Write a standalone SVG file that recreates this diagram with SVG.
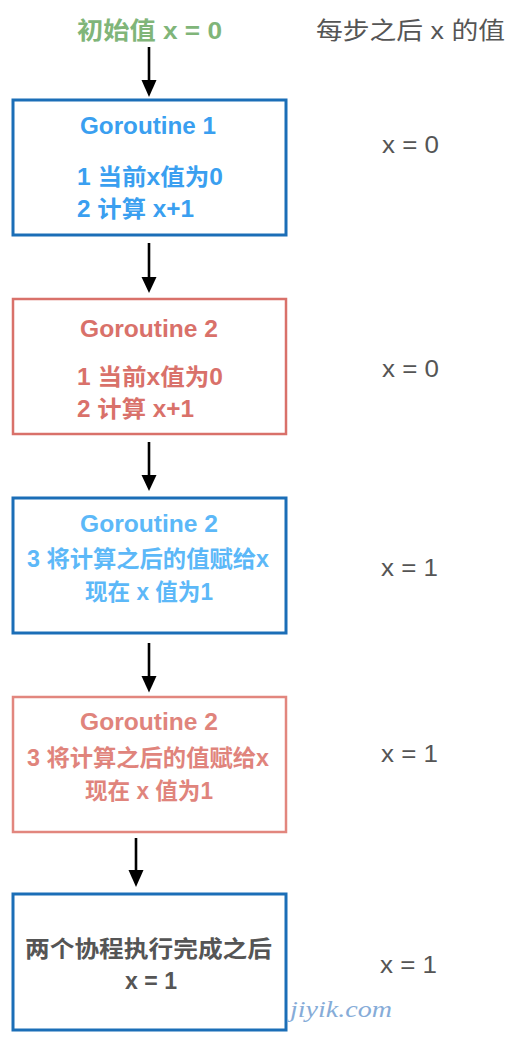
<svg xmlns="http://www.w3.org/2000/svg" width="513" height="1051" viewBox="0 0 513 1051">
<style>
text{font-family:"Liberation Sans","Noto Sans CJK SC",sans-serif;font-size:23px}
.b{font-weight:bold}
.box{fill:#fff}
.bl{stroke:#1b6eb7;stroke-width:3}
.rd{stroke:#d9716a;stroke-width:2.5}
.rd2{stroke:#e2867e;stroke-width:2.5}
.t1{fill:#3a9ff0}
.t2{fill:#d9716a}
.t3{fill:#5cb8f8}
.t4{fill:#e0847c}
.t5{fill:#555}
.side{fill:#555;font-size:24px}
.line{stroke:#000;stroke-width:2.6;fill:none}
.head{fill:#000}
</style>
<rect width="513" height="1051" fill="#fff"/>
<g id="title">
<text class="b" x="77" y="38.5" fill="#80b579" textLength="145" lengthAdjust="spacingAndGlyphs" style="font-size:24px">初始值 x = 0</text>
</g>
<g id="header">
<text class="side" x="316" y="38.5" textLength="189" lengthAdjust="spacingAndGlyphs">每步之后 x 的值</text>
</g>
<g id="connectors">
<path class="line" d="M149,47 V82"/><polygon class="head" points="141.5,80 156.5,80 149,97"/>
<path class="line" d="M149,243 V279"/><polygon class="head" points="141.5,277 156.5,277 149,293"/>
<path class="line" d="M149,442 V477"/><polygon class="head" points="141.5,475 156.5,475 149,491"/>
<path class="line" d="M149,643 V678"/><polygon class="head" points="141.5,676 156.5,676 149,692.5"/>
<path class="line" d="M136,838 V872"/><polygon class="head" points="128.5,870 143.5,870 136,887"/>
</g>
<g id="node1">
<rect class="box bl" x="13" y="100" width="273" height="135"/>
<text class="b t1" x="80" y="133.5" textLength="136" lengthAdjust="spacingAndGlyphs">Goroutine 1</text>
<text class="b t1" x="77" y="185" textLength="146" lengthAdjust="spacingAndGlyphs">1 当前x值为0</text>
<text class="b t1" x="77" y="217" textLength="117" lengthAdjust="spacingAndGlyphs">2 计算 x+1</text>
</g>
<g id="node2">
<rect class="box rd" x="13" y="299" width="273" height="135"/>
<text class="b t2" x="80" y="336.5" textLength="138" lengthAdjust="spacingAndGlyphs">Goroutine 2</text>
<text class="b t2" x="77" y="385" textLength="146" lengthAdjust="spacingAndGlyphs">1 当前x值为0</text>
<text class="b t2" x="77" y="416.5" textLength="117" lengthAdjust="spacingAndGlyphs">2 计算 x+1</text>
</g>
<g id="node3">
<rect class="box bl" x="13" y="498" width="273" height="135"/>
<text class="b t3" x="80" y="531.5" textLength="138" lengthAdjust="spacingAndGlyphs">Goroutine 2</text>
<text class="b t3" x="27" y="566.5" textLength="242" lengthAdjust="spacingAndGlyphs">3 将计算之后的值赋给x</text>
<text class="b t3" x="85" y="600" textLength="128" lengthAdjust="spacingAndGlyphs">现在 x 值为1</text>
</g>
<g id="node4">
<rect class="box rd2" x="13" y="697" width="273" height="135"/>
<text class="b t4" x="80" y="730" textLength="138" lengthAdjust="spacingAndGlyphs">Goroutine 2</text>
<text class="b t4" x="27" y="766" textLength="242" lengthAdjust="spacingAndGlyphs">3 将计算之后的值赋给x</text>
<text class="b t4" x="85" y="799" textLength="128" lengthAdjust="spacingAndGlyphs">现在 x 值为1</text>
</g>
<g id="node5">
<rect class="box bl" x="13" y="894" width="273" height="136"/>
<text class="b t5" x="25" y="957" textLength="247" lengthAdjust="spacingAndGlyphs">两个协程执行完成之后</text>
<text class="b t5" x="125" y="989" textLength="52" lengthAdjust="spacingAndGlyphs">x = 1</text>
</g>
<g id="values">
<text class="side" x="382" y="153" textLength="57" lengthAdjust="spacingAndGlyphs">x = 0</text>
<text class="side" x="382" y="377" textLength="57" lengthAdjust="spacingAndGlyphs">x = 0</text>
<text class="side" x="381" y="576" textLength="57" lengthAdjust="spacingAndGlyphs">x = 1</text>
<text class="side" x="381" y="762" textLength="57" lengthAdjust="spacingAndGlyphs">x = 1</text>
<text class="side" x="380" y="973" textLength="57" lengthAdjust="spacingAndGlyphs">x = 1</text>
</g>
<g id="watermark">
<text x="290" y="1017" fill="#86acd8" textLength="102" lengthAdjust="spacingAndGlyphs" style="font-family:'Liberation Serif',serif;font-style:italic;font-size:24px">jiyik.com</text>
</g>
</svg>
